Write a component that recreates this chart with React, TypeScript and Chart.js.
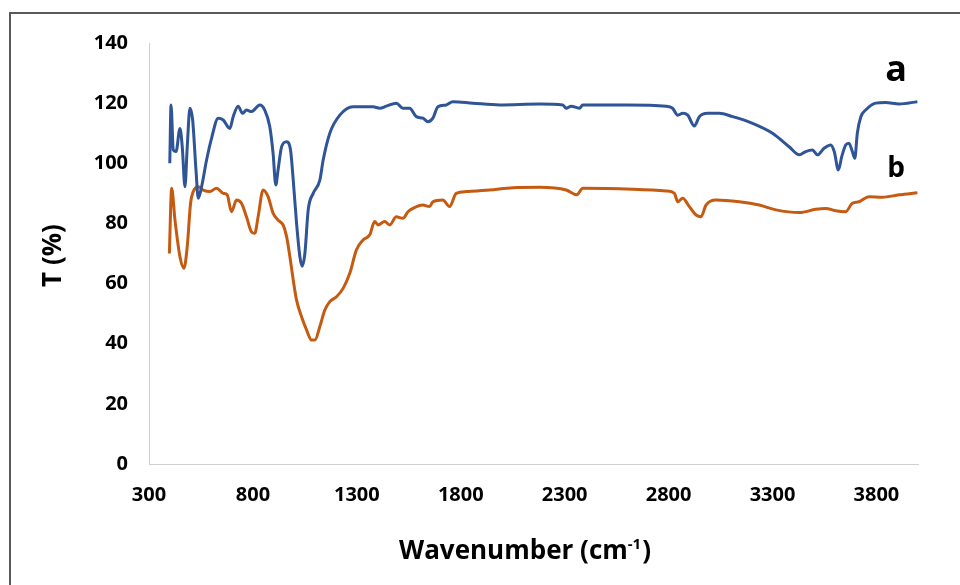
import { useEffect, useRef } from "react";
import { Chart, registerables } from "chart.js";

Chart.register(...registerables);

// Wavenumber (cm-1) / transmittance (%)
const seriesA: [number, number][] = [
  [400, 100], [406, 119.4], [417, 104.4], [430, 103.9], [449, 111.6], [460, 105.5], [473, 92.2],
  [484, 105.5], [497, 118.3], [510, 114.4], [526, 97.8], [537, 88.4], [553, 92.2], [577, 101.1],
  [601, 108.3], [633, 115], [657, 114.4], [689, 111.6], [705, 115.5], [729, 119], [750, 116.6],
  [769, 117.7], [793, 117.2], [833, 119.4], [857, 117.7], [881, 112.2], [897, 103.3], [910, 92.8],
  [921, 97.8], [938, 105.5], [962, 107.2], [981, 104.4], [994, 94.4], [1010, 80], [1026, 68.9],
  [1037, 65.8], [1050, 70], [1066, 84.5], [1090, 90], [1122, 94.4], [1138, 101.1], [1170, 110],
  [1218, 116], [1282, 118.8], [1378, 118.8], [1410, 118.3], [1442, 119], [1490, 120], [1522, 118.3],
  [1554, 118.3], [1586, 115.5], [1618, 115], [1642, 113.8], [1666, 115], [1690, 118.8], [1730, 119.4],
  [1762, 120.5], [1858, 120], [1987, 119.4], [2179, 119.7], [2291, 119.4], [2307, 118.3], [2331, 119],
  [2371, 118.3], [2387, 119.4], [2600, 119.4], [2788, 119], [2819, 118.3], [2844, 116], [2868, 116.6],
  [2892, 116], [2924, 112.4], [2948, 115.5], [2988, 116.6], [3044, 116.6], [3108, 115.5], [3204, 113.3],
  [3300, 110], [3380, 105.5], [3429, 102.8], [3460, 103.9], [3492, 104.4], [3516, 102.8], [3548, 105],
  [3580, 106.1], [3597, 103.9], [3617, 97.8], [3633, 102.2], [3652, 106.1], [3668, 106.7], [3684, 103.9],
  [3696, 101.7], [3708, 110], [3725, 115.5], [3748, 117.7], [3796, 120], [3844, 120.2], [3909, 119.7],
  [3997, 120.5],
];

const seriesB: [number, number][] = [
  [398, 70], [409, 91.7], [425, 81.1], [449, 68.9], [468, 65.1], [484, 72.3], [500, 86.7], [513, 90.6],
  [537, 92.2], [561, 91.1], [593, 90.6], [625, 91.7], [657, 90], [676, 89.5], [697, 83.9], [721, 87.8],
  [745, 86.7], [769, 82.2], [793, 77.2], [809, 76.7], [825, 82.2], [849, 91.1], [873, 88.9], [897, 83.4],
  [921, 81.1], [945, 79.5], [962, 75.6], [978, 68.9], [994, 61.2], [1010, 54.5], [1034, 49], [1058, 44.6],
  [1082, 41.2], [1098, 41.2], [1122, 45.7], [1146, 51.2], [1170, 54], [1202, 55.6], [1234, 58.4],
  [1266, 63.4], [1298, 71.2], [1330, 74.5], [1362, 76.2], [1386, 80.6], [1402, 79.5], [1434, 80.6],
  [1458, 79.5], [1490, 82.2], [1522, 81.7], [1546, 83.9], [1570, 85], [1618, 86.1], [1650, 85.6],
  [1666, 87.2], [1714, 87.8], [1746, 85.6], [1778, 90], [1827, 90.6], [1939, 91.1], [2051, 91.9],
  [2179, 92], [2307, 91.1], [2358, 89.5], [2387, 91.7], [2627, 91.4], [2788, 90.8], [2828, 90],
  [2844, 87.2], [2868, 88.4], [2900, 85.6], [2932, 82.8], [2956, 82.2], [2980, 86.1], [3028, 87.8],
  [3140, 87.2], [3236, 86.1], [3316, 84.5], [3429, 83.6], [3508, 84.7], [3556, 85], [3604, 84.2],
  [3652, 83.9], [3684, 86.7], [3716, 87.2], [3764, 88.9], [3828, 88.7], [3909, 89.5], [3997, 90.2],
];

const xTickValues = [300, 800, 1300, 1800, 2300, 2800, 3300, 3800];
const yTickValues = [0, 20, 40, 60, 80, 100, 120, 140];
const seriesNames = ["a", "b"];
const labelAnchors = [
  { text: "a", x: 3895, y: 127.4, size: 36 },
  { text: "b", x: 3895, y: 95.4, size: 28 },
];

const FONT = '"Open Sans", "Liberation Sans", sans-serif';

export default function App() {
  const ref = useRef<HTMLCanvasElement>(null);

  useEffect(() => {
    if (!ref.current) return;
    const textPlugin = {
      id: "textPlugin",
      afterDraw(chart: any) {
        const ctx = chart.ctx as CanvasRenderingContext2D;
        const { top, bottom } = chart.chartArea;
        const xs = chart.scales.x;
        const ys = chart.scales.y;
        ctx.save();
        ctx.fillStyle = "#000";
        // y title
        ctx.save();
        ctx.font = `bold 26px ${FONT}`;
        ctx.translate(54, (top + bottom) / 2 + 2);
        ctx.rotate(-Math.PI / 2);
        ctx.textAlign = "center";
        ctx.textBaseline = "middle";
        ctx.fillText("T (%)", 0, 0);
        ctx.restore();
        // x title with superscript
        const main1 = "Wavenumber (cm";
        const sup = "-1";
        const main2 = ")";
        ctx.textBaseline = "alphabetic";
        ctx.textAlign = "left";
        ctx.font = `bold 26px ${FONT}`;
        const w1 = ctx.measureText(main1).width;
        const w3 = ctx.measureText(main2).width;
        ctx.font = `bold 15px ${FONT}`;
        const w2 = ctx.measureText(sup).width;
        const total = w1 + w2 + w3 + 1;
        const cx = 525;
        const base = 559;
        let x0 = cx - total / 2;
        ctx.font = `bold 26px ${FONT}`;
        ctx.fillText(main1, x0, base);
        x0 += w1;
        ctx.font = `bold 15px ${FONT}`;
        ctx.fillText(sup, x0, base - 10);
        x0 += w2 + 1;
        ctx.font = `bold 26px ${FONT}`;
        ctx.fillText(main2, x0, base);
        // series labels
        ctx.textAlign = "center";
        labelAnchors.forEach((l) => {
          ctx.font = `bold ${l.size}px ${FONT}`;
          ctx.fillText(l.text, xs.getPixelForValue(l.x), ys.getPixelForValue(l.y));
        });
        ctx.restore();
      },
    };

    const chart = new Chart(ref.current, {
      type: "line",
      data: {
        datasets: [
          {
            label: seriesNames[0],
            data: seriesA.map(([x, y]) => ({ x, y })),
            borderColor: "#2F5597",
            borderWidth: 3,
            pointRadius: 0,
            cubicInterpolationMode: "monotone",
            fill: false,
          },
          {
            label: seriesNames[1],
            data: seriesB.map(([x, y]) => ({ x, y })),
            borderColor: "#C55A11",
            borderWidth: 3,
            pointRadius: 0,
            cubicInterpolationMode: "monotone",
            fill: false,
          },
        ],
      },
      options: {
        animation: false,
        responsive: false,
        layout: { padding: { left: 0, right: 42, top: 43, bottom: 0 } },
        plugins: { legend: { display: false }, tooltip: { enabled: false } },
        scales: {
          x: {
            type: "linear",
            min: 300,
            max: 4000,
            afterBuildTicks: (s: any) => {
              s.ticks = xTickValues.map((v) => ({ value: v }));
            },
            afterFit: (s: any) => {
              s.height = 121;
            },
            grid: { display: false, drawTicks: false },
            border: { display: true, color: "#d0d0d0", width: 1 },
            ticks: {
              color: "#000",
              font: { family: FONT, size: 20, weight: "bold" },
              padding: 19,
              maxRotation: 0,
              autoSkip: false,
              callback: (v: any) => String(v),
            },
          },
          y: {
            type: "linear",
            min: 0,
            max: 140,
            afterBuildTicks: (s: any) => {
              s.ticks = yTickValues.map((v) => ({ value: v }));
            },
            afterFit: (s: any) => {
              s.width = 149;
            },
            grid: { display: false, drawTicks: false },
            border: { display: true, color: "#d0d0d0", width: 1 },
            ticks: {
              color: "#000",
              font: { family: FONT, size: 20, weight: "bold" },
              padding: 21,
              callback: (v: any) => String(v),
            },
          },
        },
      },
      plugins: [textPlugin],
    } as any);
    return () => chart.destroy();
  }, []);

  return (
    <div
      style={{
        position: "fixed",
        left: 0,
        top: 0,
        width: 960,
        height: 585,
        background: "#fff",
        overflow: "hidden",
      }}
    >
      <div
        style={{
          position: "absolute",
          left: 9,
          top: 12,
          width: 1100,
          height: 1100,
          border: "2px solid #595959",
        }}
      />
      <canvas
        ref={ref}
        width={960}
        height={585}
        style={{ position: "absolute", left: 0, top: 0, width: 960, height: 585 }}
      />
    </div>
  );
}
